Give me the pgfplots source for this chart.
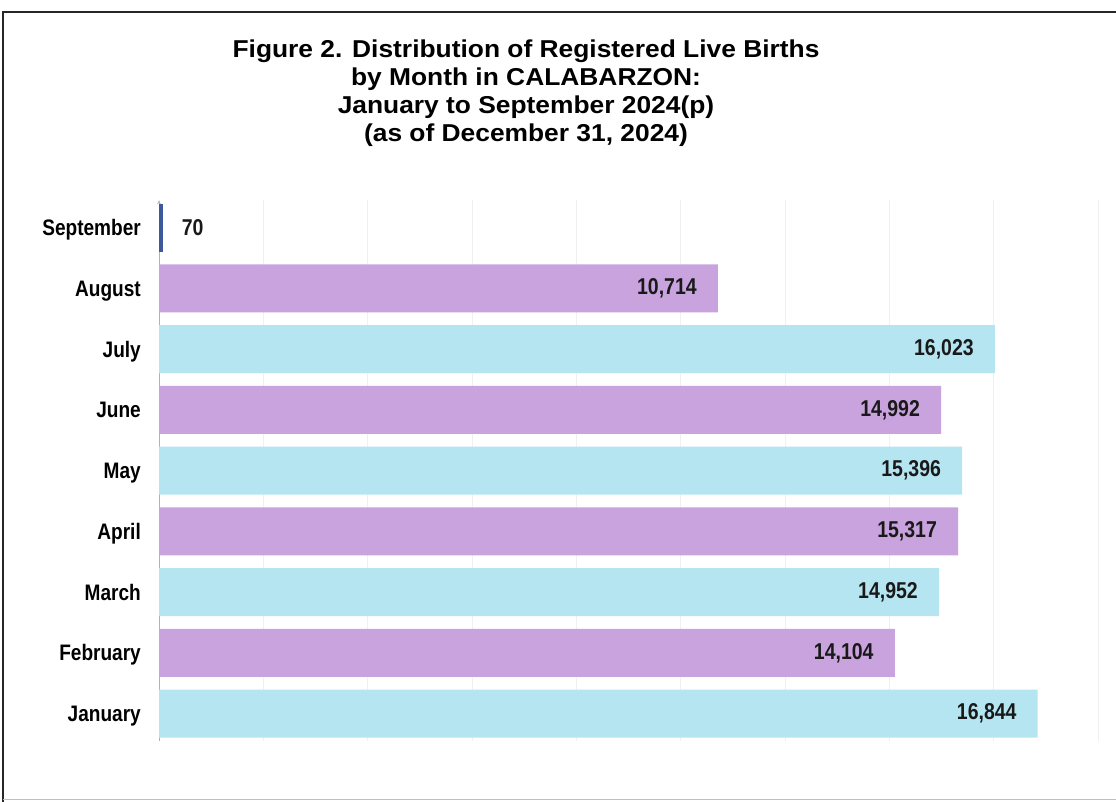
\documentclass[border=0pt]{standalone}
\usepackage{fontspec}
\setmainfont{Liberation Sans}
\newfontfamily\titlefont[FakeStretch=1.08]{Liberation Sans}
\newfontfamily\narrowfont[FakeStretch=0.85]{Liberation Sans}
\usepackage{pgfplots}
\pgfplotsset{compat=1.18}
\definecolor{barcyan}{HTML}{B6E5F2}
\definecolor{barpurple}{HTML}{C8A3DE}
\definecolor{barnavy}{HTML}{3C5A99}
\definecolor{gridgray}{HTML}{F0F0F0}
\begin{document}
\begin{tikzpicture}
\useasboundingbox (0bp,0bp) rectangle (1116bp,802bp);
% frame
\draw[line width=1.6bp,black!85] (3bp,0bp) -- (3bp,790bp) -- (1116bp,790bp);
\draw[line width=1bp,black!25] (3bp,2bp) -- (1116bp,2bp);
% title
\begin{scope}[every node/.style={font=\titlefont\bfseries\fontsize{24.5}{28}\selectfont, anchor=base, inner sep=0pt}]
\node at (526bp,744bp) {Figure 2. Distribution of Registered Live Births};
\node at (526bp,716bp) {by Month in CALABARZON:};
\node at (526bp,688bp) {January to September 2024(p)};
\node at (526bp,660bp) {(as of December 31, 2024)};
\end{scope}
\begin{axis}[
  at={(159bp,61bp)}, anchor=south west,
  scale only axis,
  width=939bp, height=540.7bp,
  xmin=0, xmax=18000,
  ymin=-0.45, ymax=8.45,
  xbar, bar width=48bp, bar shift=0pt,
  axis lines=left,
  x axis line style={draw=none},
  y axis line style={draw=black!30, line width=0.8bp},
  xtick={0,2000,...,18000},
  xticklabels={},
  scaled x ticks=false,
  xmajorgrids,
  grid style={gridgray, line width=0.8bp},
  major tick length=0pt,
  ytick={0,1,2,3,4,5,6,7,8},
  yticklabels={January,February,March,April,May,June,July,August,September},
  yticklabel style={font=\narrowfont\bfseries\fontsize{22.5}{22.5}\selectfont, inner sep=0pt, xshift=-18bp, yshift=-8bp, anchor=base east},
  point meta=x,
  nodes near coords,
  /pgf/number format/.cd, 1000 sep={,}, assume math mode=true,
  /pgfplots/.cd,
  every node near coord/.append style={font=\narrowfont\bfseries\fontsize{23}{23}\selectfont, text=black!90, inner sep=0pt},
]
\addplot[fill=barcyan, draw=none, nodes near coords style={anchor=east, xshift=-21bp}] coordinates {
  (16844,0) (14952,2) (15396,4) (16023,6)
};
\addplot[fill=barpurple, draw=none, nodes near coords style={anchor=east, xshift=-21bp}] coordinates {
  (14104,1) (15317,3) (14992,5) (10714,7)
};
\addplot[fill=barnavy, draw=none, nodes near coords style={anchor=west, xshift=19bp}] coordinates {
  (70,8)
};
\end{axis}
\end{tikzpicture}
\end{document}
